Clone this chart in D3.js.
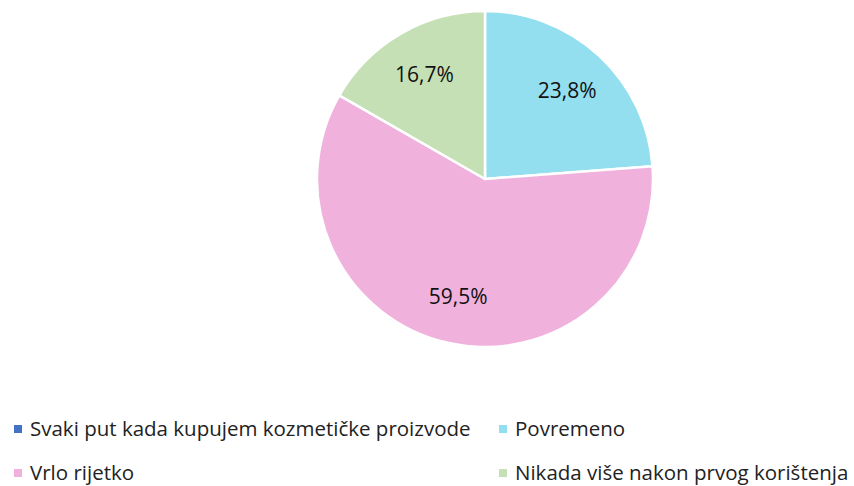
<!DOCTYPE html>
<html>
<head>
<meta charset="utf-8">
<script src="https://cdn.jsdelivr.net/npm/d3@7"></script>
<style>
    body { margin: 0; background: #fff; }
    svg { display: block; font-family: "Open Sans", Lato, sans-serif; }
</style>
</head>
<body>
<svg id="chart" width="854" height="486"></svg>
<script>
// categories and values (percent)
var categories = [
    "Svaki put kada kupujem kozmetičke proizvode",
    "Povremeno",
    "Vrlo rijetko",
    "Nikada više nakon prvog korištenja"
];
var values = [0, 23.8, 59.5, 16.7];
var colors = ["#4472C4", "#93DFEF", "#F0B2DC", "#C6E0B5"];

var cx = 485;
var cy = 179;
var radius = 168;

var svg = d3.select("#chart");

var data = categories.map(function (c, i) {
    return { name: c, value: values[i], color: colors[i] };
});

var pie = d3.pie()
    .sort(null)
    .value(function (d) { return d.value; });

var arc = d3.arc()
    .innerRadius(0)
    .outerRadius(radius);

var labelArc = d3.arc()
    .innerRadius(radius * 0.72)
    .outerRadius(radius * 0.72);

var pieGroup = svg.append("g")
    .attr("transform", "translate(" + cx + "," + cy + ")");

var arcs = pie(data);

pieGroup.selectAll("path")
    .data(arcs)
    .enter().append("path")
    .attr("d", arc)
    .attr("fill", function (d) { return d.data.color; })
    .attr("stroke", "#fff")
    .attr("stroke-width", 2.5)
    .attr("stroke-linejoin", "round");

// percentage labels
pieGroup.selectAll("text")
    .data(arcs.filter(function (d) { return d.data.value > 0; }))
    .enter().append("text")
    .attr("transform", function (d) { return "translate(" + labelArc.centroid(d) + ")"; })
    .attr("text-anchor", "middle")
    .attr("dy", "0.35em")
    .style("font-size", "21px")
    .style("fill", "#111")
    .text(function (d) { return d3.format(".1f")(d.data.value).replace(".", ",") + "%"; });

// legend in two columns
var legendX = d3.scalePoint().domain([0, 1]).range([14, 499]);
var legendY = d3.scalePoint().domain([0, 1]).range([429, 473]);

var legend = svg.append("g")
    .selectAll("g")
    .data(data)
    .enter().append("g")
    .attr("transform", function (d, i) {
        return "translate(" + legendX(i % 2) + "," + legendY(Math.floor(i / 2)) + ")";
    });

legend.append("rect")
    .attr("x", 0)
    .attr("y", -4)
    .attr("width", 8)
    .attr("height", 8)
    .attr("fill", function (d) { return d.color; });

legend.append("text")
    .attr("x", 16)
    .attr("dy", "0.36em")
    .style("font-size", "20.5px")
    .style("fill", "#222")
    .text(function (d) { return d.name; });
</script>
</body>
</html>
